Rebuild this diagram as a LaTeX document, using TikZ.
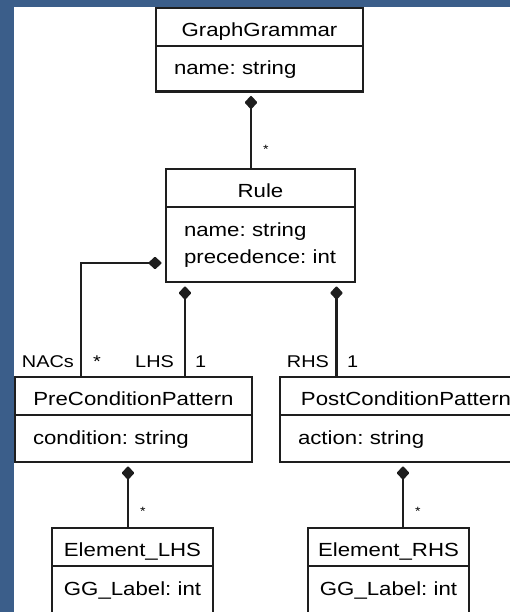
\documentclass[tikz,border=0pt]{standalone}
\usepackage{fontspec}
\setmainfont{Liberation Sans}[FakeStretch=1.17]
\usetikzlibrary{positioning,arrows.meta}
\definecolor{slide}{RGB}{59,94,138}
\definecolor{umlline}{RGB}{30,30,30}
\tikzset{
  classhead/.style={draw=umlline, line width=2.2pt, fill=white, inner sep=0pt, outer sep=0pt,
    minimum height=38pt, text height=19pt, text depth=0pt, font=\fontsize{19}{26.6}\selectfont},
  classbody/.style={draw=umlline, line width=2.2pt, fill=white, inner xsep=18pt, inner ysep=0pt,
    outer sep=0pt, align=left, text height=14pt, text depth=3pt, font=\fontsize{19}{26.6}\selectfont},
  comp/.style={draw=umlline, line width=2.2pt, -{Diamond[length=14pt,width=13pt,round]}, shorten >=4.5pt},
  role/.style={inner sep=0pt, font=\fontsize{17}{20}\selectfont},
  many/.style={inner sep=0pt, font=\fontsize{12}{14}\selectfont},
}
\begin{document}
\begin{tikzpicture}[x=1pt,y=-1pt]
\useasboundingbox (0,0) rectangle (510,612);
\fill[slide] (0,0) rectangle (510,612);
\fill[white] (14,7) rectangle (510,612);
\clip (14,7) rectangle (510,612);

% classes
\node[classhead, minimum width=207pt] (gghead) at (259.5,27) {GraphGrammar};
\node[classbody, below=0pt of gghead, text width=171pt, minimum height=45.5pt] (ggbody) {name:~string};

\node[classhead, minimum width=189pt] (rulehead) at (260.5,188) {Rule};
\node[classbody, below=0pt of rulehead, text width=153pt, text depth=29.6pt, minimum height=75pt] (rulebody)
  {name:~string\\precedence:~int};

\node[classhead, minimum width=237pt] (prehead) at (133.5,396) {PreConditionPattern};
\node[classbody, below=0pt of prehead, text width=201pt, minimum height=47pt] (prebody) {condition:~string};

\node[classhead, minimum width=252pt] (posthead) at (406,396) {PostConditionPattern};
\node[classbody, below=0pt of posthead, text width=216pt, minimum height=47pt] (postbody) {action:~string};

\node[classhead, minimum width=161pt] (elhshead) at (132.5,547) {Element\_LHS};
\node[classbody, below=0pt of elhshead, align=center, inner xsep=8pt, minimum width=161pt, minimum height=48pt] (elhsbody)
  {GG\_Label:~int};

\node[classhead, minimum width=161pt] (erhshead) at (388.5,547) {Element\_RHS};
\node[classbody, below=0pt of erhshead, align=center, inner xsep=8pt, minimum width=161pt, minimum height=48pt] (erhsbody)
  {GG\_Label:~int};

% compositions
\coordinate (gg-end) at ([xshift=-9.5pt]rulehead.north);
\draw[comp] (gg-end) -- (gg-end |- ggbody.south) node[many, pos=0.25, right=11pt] {*};

\coordinate (nac-end) at ([xshift=-52.5pt]prehead.north);
\coordinate (nac-top) at ([yshift=-18.5pt]rulebody.west);
\draw[comp] (nac-end) node[role, above left=8.5pt and 6pt] {NACs}
  node[role, above right=8.5pt and 11pt] {*} |- (nac-top);

\coordinate (lhs-end) at ([xshift=51.5pt]prehead.north);
\draw[comp] (lhs-end) node[role, above left=8.5pt and 10pt] {LHS}
  node[role, above right=8.5pt and 9pt] {1} -- (lhs-end |- rulebody.south);

\coordinate (rhs-end) at ([xshift=-69.5pt]posthead.north);
\draw[comp] (rhs-end) node[role, above left=8.5pt and 6.5pt] {RHS}
  node[role, above right=8.5pt and 9.5pt] {1} -- (rhs-end |- rulebody.south);

\coordinate (el-end) at ([xshift=-4.5pt]elhshead.north);
\draw[comp] (el-end) -- (el-end |- prebody.south) node[many, pos=0.25, right=11pt] {*};
\coordinate (er-end) at ([xshift=14.5pt]erhshead.north);
\draw[comp] (er-end) -- (er-end |- postbody.south) node[many, pos=0.25, right=11pt] {*};
\end{tikzpicture}
\end{document}
